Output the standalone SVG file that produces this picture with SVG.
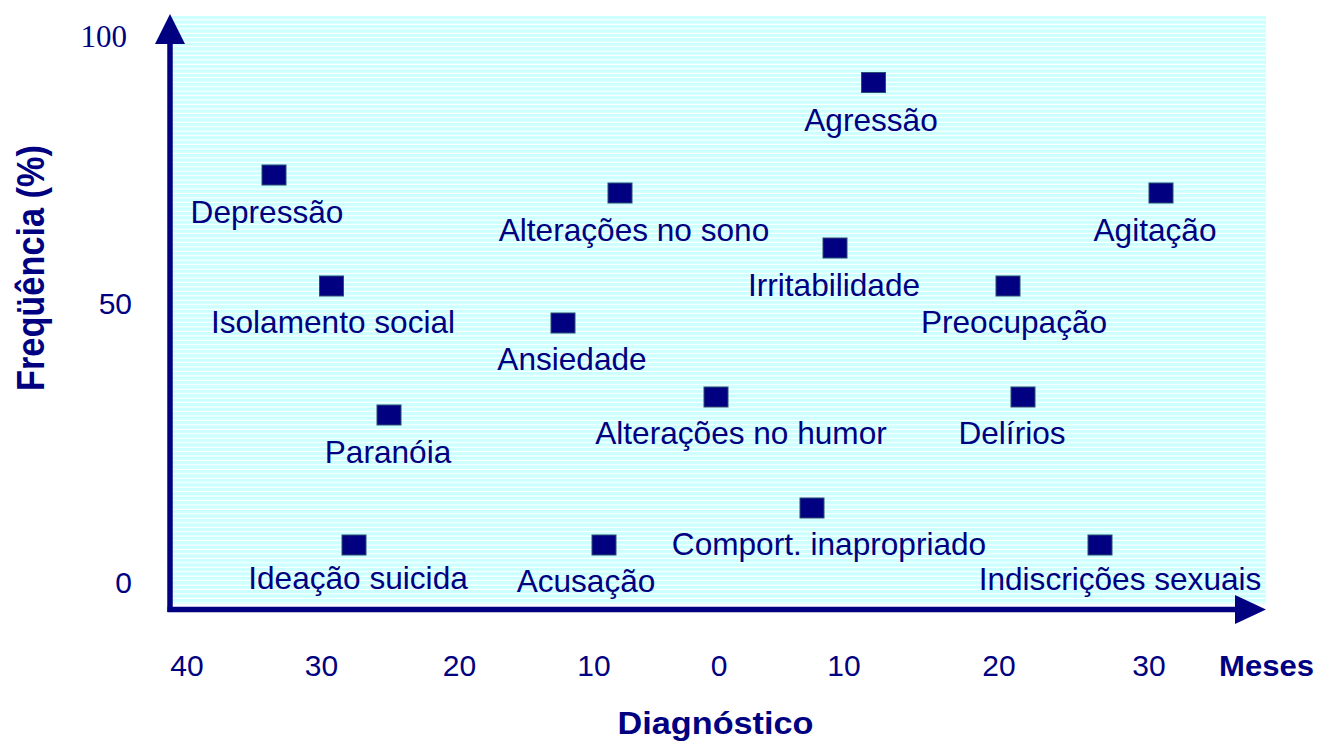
<svg xmlns="http://www.w3.org/2000/svg" width="1319" height="743" viewBox="0 0 1319 743">
<defs>
<pattern id="stripes" patternUnits="userSpaceOnUse" x="0" y="16" width="20" height="4.45">
<rect x="0" y="0" width="20" height="4.45" fill="#CCFFFF"/>
<rect x="0" y="3.3" width="20" height="1.15" fill="#FFFFFF"/>
</pattern>
</defs>
<style>
.lbl{font-family:"Liberation Sans",Arial,sans-serif;font-size:31.6px;fill:#000080;text-anchor:middle}
.tick{font-family:"Liberation Sans",Arial,sans-serif;font-size:30px;fill:#000080;text-anchor:middle}
.ytick{font-family:"Liberation Sans",Arial,sans-serif;font-size:30px;fill:#000080;text-anchor:end}
.title{font-family:"Liberation Sans",Arial,sans-serif;font-weight:bold;fill:#000080;text-anchor:middle}
.mk{fill:#000080;stroke:#2B4F72;stroke-width:1}
</style>
<rect width="1319" height="743" fill="#FFFFFF"/>
<rect x="172" y="16" width="1094" height="588" fill="url(#stripes)"/>

<g id="axes">
<line x1="170" y1="40" x2="170" y2="612" stroke="#000080" stroke-width="5.5"/>
<polygon points="155,44 170,14 185,44" fill="#000080"/>
<line x1="167.5" y1="609.5" x2="1238" y2="609.5" stroke="#000080" stroke-width="5.5"/>
<polygon points="1235,595 1266,609.5 1235,624" fill="#000080"/>
</g>

<g id="axis-labels">
<text x="127" y="47" style="font-family:'Liberation Serif','Times New Roman',serif;font-size:31px;fill:#000080;text-anchor:end">100</text>
<text class="ytick" x="132" y="314">50</text>
<text class="ytick" x="132" y="593">0</text>
<text class="tick" x="187" y="676">40</text>
<text class="tick" x="321.5" y="676">30</text>
<text class="tick" x="459.5" y="676">20</text>
<text class="tick" x="594" y="676">10</text>
<text class="tick" x="719" y="676">0</text>
<text class="tick" x="844" y="676">10</text>
<text class="tick" x="999" y="676">20</text>
<text class="tick" x="1149" y="676">30</text>
<text class="title" x="1266.5" y="676" style="font-size:30px" textLength="95" lengthAdjust="spacingAndGlyphs">Meses</text>
<text class="title" x="715.5" y="734" style="font-size:31px" textLength="196" lengthAdjust="spacingAndGlyphs">Diagnóstico</text>
<text class="title" transform="translate(44,268) rotate(-90)" x="0" y="0" style="font-size:38px" textLength="246" lengthAdjust="spacingAndGlyphs">Freqüência (%)</text>
</g>

<g id="n-agressao"><rect class="mk" x="861.5" y="72.5" width="24" height="20"/><text class="lbl" x="871" y="131">Agressão</text></g>
<g id="n-depressao"><rect class="mk" x="262" y="165" width="24" height="20"/><text class="lbl" x="267" y="223">Depressão</text></g>
<g id="n-sono"><rect class="mk" x="608" y="183" width="24" height="20"/><text class="lbl" x="634" y="241">Alterações no sono</text></g>
<g id="n-agitacao"><rect class="mk" x="1149" y="183" width="24" height="20"/><text class="lbl" x="1155" y="241">Agitação</text></g>
<g id="n-irritabilidade"><rect class="mk" x="823" y="238" width="24" height="20"/><text class="lbl" x="834" y="296">Irritabilidade</text></g>
<g id="n-isolamento"><rect class="mk" x="319.5" y="276" width="24" height="20"/><text class="lbl" x="333" y="333">Isolamento social</text></g>
<g id="n-preocupacao"><rect class="mk" x="996" y="276" width="24" height="20"/><text class="lbl" x="1014" y="333">Preocupação</text></g>
<g id="n-ansiedade"><rect class="mk" x="551" y="313" width="24" height="20"/><text class="lbl" x="572" y="370">Ansiedade</text></g>
<g id="n-humor"><rect class="mk" x="704" y="387" width="24" height="20"/><text class="lbl" x="741" y="444">Alterações no humor</text></g>
<g id="n-delirios"><rect class="mk" x="1011" y="387" width="24" height="20"/><text class="lbl" x="1012" y="444">Delírios</text></g>
<g id="n-paranoia"><rect class="mk" x="377" y="405" width="24" height="20"/><text class="lbl" x="388" y="463">Paranóia</text></g>
<g id="n-comport"><rect class="mk" x="800" y="498" width="24" height="20"/><text class="lbl" x="829" y="555">Comport. inapropriado</text></g>
<g id="n-ideacao"><rect class="mk" x="342" y="535" width="24" height="20"/><text class="lbl" x="358" y="589">Ideação suicida</text></g>
<g id="n-acusacao"><rect class="mk" x="592" y="535" width="24" height="20"/><text class="lbl" x="586" y="592">Acusação</text></g>
<g id="n-indiscricoes"><rect class="mk" x="1088" y="535" width="24" height="20"/><text class="lbl" x="1120" y="590">Indiscrições sexuais</text></g>
</svg>
